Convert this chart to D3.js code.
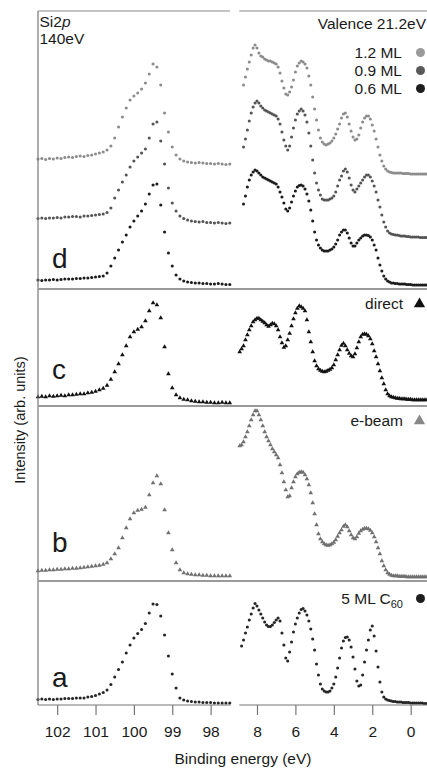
<!DOCTYPE html>
<html>
<head>
<meta charset="utf-8">
<script src="https://cdn.jsdelivr.net/npm/d3@7"></script>
<style>
body { margin: 0; background: #fff; }
text { font-family: "Liberation Sans", Arial, Helvetica, sans-serif; fill: #1a1a1a; }
</style>
</head>
<body>
<script>
// Si 2p core level (140 eV), sampled every 0.1 eV from 102.5 eV down
var coreStart = 102.5, step = 0.1;
var coreTicks = [102, 101, 100, 99, 98];
var valTicks = [8, 6, 4, 2, 0];

var core_d12 = [130,130.5,129.5,130.5,130,131,130.5,131.5,132,131.5,132.5,133,132.5,133.5,134,135,136,137,139,143,151,162,172,181,189,193,196,200,206,215,225,222,204,176,157,142,134,130,128,127,126.5,126,126.5,126,125.5,125.5,125,125.5,125,124.5,125];
var core_d09 = [70.5,71,70.5,71,71,71.5,71,72,72,72.5,72.5,72,73,73,73.5,74,74.5,75,76.5,81,91,99,107,114,122,128,132,136,140,151,165,167,148,125,101,86,78,73,70.5,69,68,67.5,67,67.5,66.5,66.5,66,66.5,66,65.5,66];
var core_d06 = [9,8.5,9,9,9.5,9,9.5,10,10,10,10.5,10.5,11,11,11.5,12,12.5,13,16,23,31,39,47,54,62,68,73,78,85,95,104,105,84,57,36,23,14,10,8,7,6.5,6,6,5.5,5.5,5,5,5.5,5,4.5,4.5];
var core_c = [9,9.5,9,10,9.5,10,10.5,10,11,11,11.5,12,12,13,13.5,14.5,16,17.5,20.5,26.5,34,42,51,60,69,74,76.5,79,85,95,103,101,88,59,32,18,11,8,6.5,6,5,4.5,4,4,3.5,3.5,3,3,3.5,3,3];
var core_b = [10,10.5,10.5,11,11,11.5,11.5,12,12,12.5,12.5,13,13.5,14,14.5,15,15.5,16.5,18,22,27,33,43,53,62,68,70.5,71.5,73.5,86,98,105,97,71,48,31,18,11,8,7,6.5,6,6,5.5,5.5,5,5,5,5,5,5];
var core_a = [5.5,6,5.5,6,5.5,6,6,6.5,6.5,6.5,7,7,7,8,8.5,9.5,11,12.5,15,20.5,28,35.5,43,52,60,67,71.5,75.5,81.5,92,101,100.5,89,70,49,31,17,7,5,4,3.5,3,3,2.5,2.5,2.5,2,2,2,2,2];

// Valence band (21.2 eV), 0.1 eV steps from each start energy down to -0.8 eV
var valStart_d = 8.7, valStart_c = 8.9, valStart_b = 8.9, valStart_a = 8.8;
var val_d12 = [204,212,220,227,234,241,244,241,236,233,232,230,229,228,228,227,226,225,222,216,208,201,195,194,197,202,209,217,223,226,228,227,225,221,213,204,192,180,169,159,151,147,145,144,145,146,148,151,155,160,165,171,175,176,172,165,158,152,149,150,154,161,167,171,173,173,170,164,158,150,142,134,128,123,120,118,117,116.5,116,116,116,116,116,115.5,115.5,115.5,115.5,115,115,115,115,115,115,115,115,115];
var val_d09 = [142,150,159,168,176,182,186,188,186,183,181,179,178,177,176,175,174,173,170,165,157,149,143,139,143,152,161,169,175,178,180,178,174,167,156,143,129,116,106,99,94,90,89,89,89,90,91,93,97,103,109,113,118,120,117,111,104,99,97,100,103,106,109,112,114,114,112,108,103,97,89,82,74,67,62,58,56,55,54.5,54,54,53.5,53,53,53,52.5,52.5,52,52,52,52,52,51.5,51.5,51.5,51.5];
var val_d06 = [85,93,102,109,114,117,119,118,116,114,112,111,110,109,108,107,106,105,102,97,92,86,80,78,81,87,93,98,102,103.5,104,103,100,95,88,79,68,57,49,44,41,39,38,38,38,39,40,42,45,49,54,57,59,59,56,51,46,43,43,46,49,51,53,54,54,53.5,52,49,44,39,31,24,18,13,10,8,7,6,6,5.5,5.5,5,5,5,5,4.5,4.5,4.5,4,4,4,4,4,4,4,4];
var val_c = [54,57,60,66,71,76,80,84,86,87.5,87.5,86,84.5,83,81,79.5,81,82.5,82,80,76,69,63,58.5,60,66,72.5,80,87,93,97.5,100,99,97.5,95,86,74,64,54,45,40,37,35.5,34.5,34,34.5,35.5,36.5,38,41,46,51,56,60.5,62.5,60,56,52.5,50,49,52,58,64,69,71.5,72,71.5,70,67,62,55,49,42,35,28,22,16,12,10,9,8.5,8,7.5,7.5,7,7,7,6.5,6.5,6.5,6,6,6,6,6,6,6,6];
var val_b = [135,136,139,144,149,155,161,166,170,170,166,161,155,149,144,140,136,132,129,126,123,116,108,99,91,84,85,93,99,104,107,108.5,109,108.5,106,102,96,88,78,67,56,47,42,39,37,36,35.5,36,37,38.5,41,44.5,48,51,54.5,56,54,50,46,43,42,44,47.5,50,51.5,52.5,52.5,52,50.5,48,44,39,33,27,20,15,11,8,6.5,5.5,5,5,5,4.5,4.5,4.5,4.5,4,4,4,4,4,4,4,4,4,4,4];
var val_a = [59,65,72,78,85,91,97,101.5,99,95,91,87,83,80,78.5,78.5,80,82.5,85,87,84,72,60,47,44,53,63,73,81,87,92,95.5,96.5,94,90,84,76,66,55,41,30,21,16,14,13,13,14,17,21,28,37,47,57,64,67.5,68,65,58,48,36,24,19,20,30,43,55,65,75,79,69,54,38,23,13,8,6,5,4.5,4,3.5,3.5,3,3,3,2.5,2.5,2.5,2.5,2,2,2,2,2,2,2,1.5,1.5];

var legendLabels = ['1.2 ML', '0.9 ML', '0.6 ML'];
var legendColors = ['#9a9a9a', '#5a5a5a', '#1e1e1e'];

var width = 427, height = 768;
var axisY = 705, leftX = 38;

var svg = d3.select('body')
    .append('svg')
    .attr('width', width)
    .attr('height', height);

var xCore = d3.scaleLinear().domain([102.5, 97.45]).range([leftX, 231.7]);
var xVal = d3.scaleLinear().domain([8.92, -0.85]).range([239.3, 427]);

var panels = [
    {label: 'd', top: 11, bottom: 289, labelY: 268, series: [
        {core: core_d12, val: val_d12, valStart: valStart_d, color: '#8c8c8c', shape: 'circle'},
        {core: core_d09, val: val_d09, valStart: valStart_d, color: '#555555', shape: 'circle'},
        {core: core_d06, val: val_d06, valStart: valStart_d, color: '#1c1c1c', shape: 'circle'}]},
    {label: 'c', top: 289, bottom: 406, labelY: 379, series: [
        {core: core_c, val: val_c, valStart: valStart_c, color: '#111111', shape: 'triangle'}]},
    {label: 'b', top: 406, bottom: 581, labelY: 552, series: [
        {core: core_b, val: val_b, valStart: valStart_b, color: '#707070', shape: 'triangle'}]},
    {label: 'a', top: 581, bottom: 705, labelY: 687, series: [
        {core: core_a, val: val_a, valStart: valStart_a, color: '#262626', shape: 'circle'}]}
];

var tri = d3.symbol().type(d3.symbolTriangle).size(9.5);

panels.forEach(function (p) {
    var y = d3.scaleLinear().domain([0, p.bottom - p.top]).range([p.bottom, p.top]);
    var g = svg.append('g').attr('class', 'panel-' + p.label);

    p.series.forEach(function (s) {
        var pts = s.core.map(function (v, i) {
            return {x: xCore(coreStart - i * step), y: y(v)};
        }).concat(s.val.map(function (v, i) {
            return {x: xVal(s.valStart - i * step), y: y(v)};
        }));
        if (s.shape == 'circle') {
            g.append('g').selectAll('circle')
                .data(pts)
                .enter()
                .append('circle')
                .attr('cx', function (d) { return d.x; })
                .attr('cy', function (d) { return d.y; })
                .attr('r', 1.55)
                .attr('fill', s.color);
        } else {
            g.append('g').selectAll('path')
                .data(pts)
                .enter()
                .append('path')
                .attr('d', tri)
                .attr('transform', function (d) { return 'translate(' + d.x + ',' + d.y + ')'; })
                .attr('fill', s.color);
        }
    });

    g.append('text')
        .attr('x', 52)
        .attr('y', p.labelY)
        .attr('font-size', 28)
        .text(p.label);
});

// frame: left spine, top border (broken), panel separators
svg.append('line').attr('x1', leftX).attr('x2', leftX).attr('y1', 11).attr('y2', axisY)
    .attr('stroke', '#777').attr('stroke-width', 1.2);
[[leftX, 230], [239.3, 427]].forEach(function (r) {
    svg.append('line').attr('x1', r[0]).attr('x2', r[1]).attr('y1', 11).attr('y2', 11)
        .attr('stroke', '#8a8a8a').attr('stroke-width', 1.2);
    svg.append('line').attr('x1', r[0]).attr('x2', r[1] + 0.7).attr('y1', axisY).attr('y2', axisY)
        .attr('stroke', '#777').attr('stroke-width', 1.2);
});
[289, 406, 581].forEach(function (yy) {
    svg.append('line').attr('x1', leftX).attr('x2', width).attr('y1', yy).attr('y2', yy)
        .attr('stroke', '#9a9a9a').attr('stroke-width', 1.8);
});

// axes
function styleAxis(sel) {
    sel.select('.domain').remove();
    sel.selectAll('.tick line').attr('stroke', '#777').attr('stroke-width', 1.2);
    sel.selectAll('.tick text').attr('font-size', 15.5).attr('fill', '#222')
        .style('font-family', '"Liberation Sans", Arial, sans-serif');
}
svg.append('g')
    .attr('transform', 'translate(0,' + axisY + ')')
    .call(d3.axisBottom(xCore).tickValues(coreTicks).tickSize(10).tickPadding(11).tickFormat(d3.format('d')))
    .call(styleAxis);
svg.append('g')
    .attr('transform', 'translate(0,' + axisY + ')')
    .call(d3.axisBottom(xVal).tickValues(valTicks).tickSize(10).tickPadding(11).tickFormat(d3.format('d')))
    .call(styleAxis);

svg.append('text')
    .attr('x', 243).attr('y', 764)
    .attr('text-anchor', 'middle')
    .attr('font-size', 15.5)
    .text('Binding energy (eV)');

svg.append('text')
    .attr('transform', 'translate(20,420) rotate(-90)')
    .attr('text-anchor', 'middle')
    .attr('dominant-baseline', 'central')
    .attr('font-size', 14.5)
    .text('Intensity (arb. units)');

// annotations
var si = svg.append('text').attr('x', 39.5).attr('y', 27).attr('font-size', 15.5);
si.append('tspan').text('Si2');
si.append('tspan').attr('font-style', 'italic').text('p');
svg.append('text').attr('x', 39.5).attr('y', 44).attr('font-size', 15.5).text('140eV');

svg.append('text').attr('x', 426).attr('y', 28.5)
    .attr('text-anchor', 'end').attr('font-size', 15.5)
    .text('Valence 21.2eV');

var legend = svg.append('g').selectAll('.legend')
    .data(legendLabels)
    .enter();
legend.append('text')
    .text(function (d) { return d; })
    .attr('x', 402)
    .attr('y', function (d, i) { return 52.5 + i * 18; })
    .attr('text-anchor', 'end')
    .attr('dominant-baseline', 'central')
    .attr('font-size', 15.5);
legend.append('circle')
    .attr('cx', 420.5)
    .attr('cy', function (d, i) { return 52.5 + i * 18; })
    .attr('r', 4.5)
    .attr('fill', function (d, i) { return legendColors[i]; });

var bigTri = d3.symbol().type(d3.symbolTriangle).size(55);
[['direct', 303.5, '#111'], ['e-beam', 420.5, '#888']].forEach(function (t) {
    svg.append('text').attr('x', 403).attr('y', t[1])
        .attr('text-anchor', 'end').attr('dominant-baseline', 'central')
        .attr('font-size', 15.5).text(t[0]);
    svg.append('path').attr('d', bigTri)
        .attr('transform', 'translate(419.5,' + (t[1] + 0.5) + ')')
        .attr('fill', t[2]);
});

var c60 = svg.append('text').attr('x', 403).attr('y', 603.5)
    .attr('text-anchor', 'end').attr('font-size', 15.5);
c60.append('tspan').text('5 ML C');
c60.append('tspan').attr('font-size', 11).attr('dy', 4).text('60');
svg.append('circle').attr('cx', 420.5).attr('cy', 598.5).attr('r', 4.5).attr('fill', '#1e1e1e');
</script>
</body>
</html>
